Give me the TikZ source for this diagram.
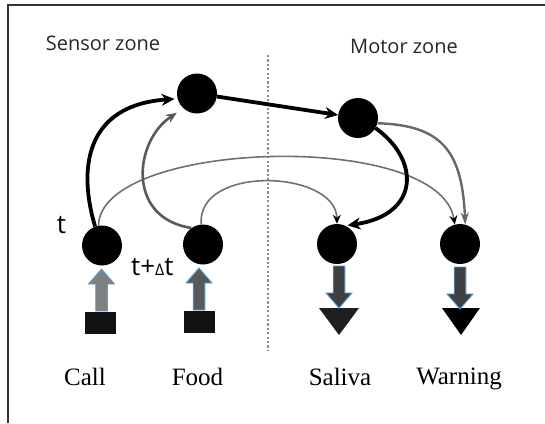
\documentclass[tikz,border=0pt]{standalone}
\usepackage{fontspec}
\setmainfont{Liberation Serif}
\newfontfamily\zonefont{Open Sans}
\usetikzlibrary{arrows.meta,calc}

\definecolor{outlineblue}{HTML}{5B9BD5}
\definecolor{wirelight}{HTML}{707070}
\definecolor{wiremid}{HTML}{5A5A5A}
\definecolor{wiregray}{HTML}{676767}

\begin{document}
\begin{tikzpicture}[x=1pt,y=-1pt,
  neuron/.style={circle,fill=black,minimum size=40pt,inner sep=0pt},
  stimbox/.style={fill=black!93,minimum width=31pt,minimum height=22pt,inner sep=0pt},
  zonelabel/.style={font=\zonefont\fontsize{20}{24}\selectfont,text=black!85,inner sep=0pt},
  timelabel/.style={font=\zonefont\fontsize{26}{30}\selectfont,inner sep=0pt},
  namelabel/.style={font=\fontsize{25}{30}\selectfont,anchor=base,inner sep=0pt},
  strong/.style={line width=3.8pt,black,-{Stealth[length=13pt,width=12pt]}},
  medium/.style={line width=2.6pt,wiremid,-{Stealth[length=11pt,width=9pt]}},
  mediumlight/.style={line width=2.4pt,wiregray,-{Stealth[length=12pt,width=8pt]}},
  thin/.style={line width=1.6pt,wirelight,-{Stealth[length=9pt,width=8pt,color=black]}},
  blockarrow/.pic={
    \path[pic actions] (-5.8,0) -- (-5.8,-27) -- (-13,-27) -- (0,-42)
      -- (13,-27) -- (5.8,-27) -- (5.8,0) -- cycle;
  }]

\useasboundingbox (0,0) rectangle (545,423);

% frame
\draw[line width=1.6pt,black!80] (8,423) -- (8,5) -- (545,5);

% zone divider
\draw[black!45,line width=1.2pt,dash pattern=on 2.2pt off 2.2pt] (268,55) -- (268,350);

% zone titles
\node[zonelabel] (sensor) at (103,43) {Sensor zone};
\node[zonelabel] (motor) at (404,46) {Motor zone};

% neurons
\node[neuron] (A) at (197,93.5) {};
\node[neuron] (B) at (358,118) {};
\node[neuron] (call) at (102,245.5) {};
\node[neuron] (food) at (203,244.5) {};
\node[neuron] (saliva) at (337,244) {};
\node[neuron] (warn) at (460,244) {};

% time labels
\node[timelabel] (tcall) at (61.5,225) {t};
\node[timelabel,anchor=west] (tfood) at (131,267.5) {t+{\fontsize{16}{18}\selectfont Δ}t};

% stimuli
\node[stimbox] (callbox) at (100.5,323) {};
\node[stimbox] (foodbox) at (199.5,322) {};

% responses
\coordinate (salout) at (339,308);
\coordinate (warnout) at (461,308);
\fill[black!88] ($(salout)+(-20,0)$) -- ($(salout)+(20,0)$) -- ($(salout)+(0,27)$) -- cycle;
\fill[black] ($(warnout)+(-19,0)$) -- ($(warnout)+(19,0)$) -- ($(warnout)+(0,27)$) -- cycle;

% block arrows between stimuli, neurons and responses
\pic[fill=black!50,draw=outlineblue,line width=0.9pt] at (101.5,311) {blockarrow};
\pic[fill=black!65,draw=outlineblue,line width=0.9pt] at (199,310) {blockarrow};
\pic[fill=black!75,draw=outlineblue,line width=0.9pt,rotate=180] at (339,266) {blockarrow};
\pic[fill=black!75,draw=outlineblue,line width=0.9pt,rotate=180] at (460,267) {blockarrow};

% unconditioned / cross links
\draw[thin] (call.100) .. controls +(1.5,-86) and +(-15,-95) .. (warn.105);
\draw[thin] (food.95) .. controls +(-5,-60) and +(-1,-54) .. (saliva.90);

% learned links
\draw[medium,shorten >=8pt] (food.125) .. controls +(-66,-10) and +(-49,32) .. (A.228);
\draw[mediumlight] (B.-15) .. controls +(63,2) and +(-3,-75) .. (warn.75);

\draw[strong,shorten >=3pt] (call.110) .. controls +(-17,-57) and +(-93,6.5) .. (A.195);
\draw[strong] (A) -- (B);
\draw[strong,shorten >=2pt] (B.330) .. controls +(45,32) and +(74.5,-11) .. (saliva.65);

% names
\node[namelabel] (lcall) at (85,385) {Call};
\node[namelabel] (lfood) at (197.5,385) {Food};
\node[namelabel] (lsaliva) at (340,385) {Saliva};
\node[namelabel] (lwarn) at (459,384) {Warning};
\end{tikzpicture}
\end{document}
